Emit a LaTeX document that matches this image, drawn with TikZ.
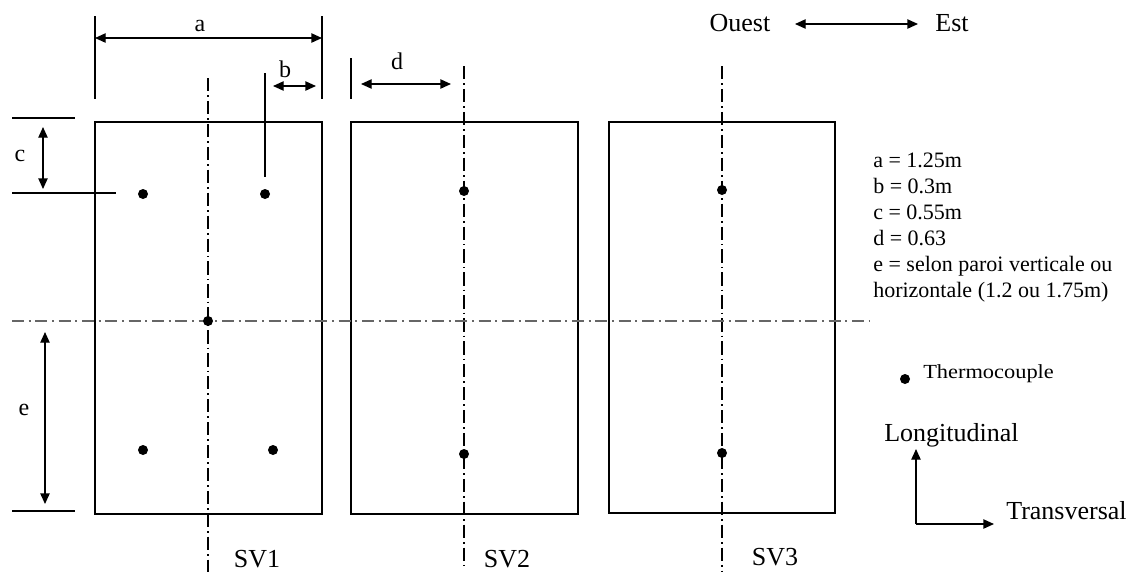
\documentclass[tikz,border=0pt]{standalone}
\usepackage{fontspec}
\setmainfont{Liberation Serif}
\usetikzlibrary{arrows.meta}
\begin{document}
\begin{tikzpicture}[x=0.75pt,y=-0.75pt,
  panel/.style={draw,line width=1.1pt,inner sep=0pt,outer sep=0pt,anchor=north west,minimum width=#1},
  dimline/.style={line width=1pt},
  dimarrow/.style={line width=1pt,{Triangle[length=8pt,width=7pt]}-{Triangle[length=8pt,width=7pt]}},
  axarrow/.style={line width=1pt,-{Triangle[length=8pt,width=7pt]}},
  vaxis/.style={line width=0.8pt,dash pattern=on 10pt off 3pt on 1.2pt off 3pt},
  haxis/.style={line width=1.3pt,black!60,dash pattern=on 9pt off 3.5pt on 1.5pt off 3.5pt},
  tc/.style={circle,fill,inner sep=0pt,minimum size=7.5pt},
  lbl/.style={font=\fontsize{18}{20}\selectfont,inner sep=0pt},
  big/.style={font=\fontsize{19.5}{22}\selectfont,inner sep=0pt},
  info/.style={font=\fontsize{16.5}{19.5}\selectfont,inner sep=0pt,align=left}
]
\useasboundingbox (0,0) rectangle (1128,572);
\fill[white] (0,0) rectangle (1128,572);

% panels
\node[panel=170.25pt,minimum height=294pt] (sv1box) at (95,122) {};
\node[panel=170.25pt,minimum height=294pt] (sv2box) at (351,122) {};
\node[panel=169.5pt,minimum height=293.25pt] (sv3box) at (609,122) {};

% centre lines
\coordinate (v1t) at (208,78);  \coordinate (v1b) at (208,572);
\coordinate (v2t) at (464,66);  \coordinate (v2b) at (464,565);
\coordinate (v3t) at (722,66);  \coordinate (v3b) at (722,572);
\coordinate (hl) at (12,321);   \coordinate (hr) at (870,321);
\draw[vaxis] (v1t) -- (v1b);
\draw[vaxis] (v2t) -- (v2b);
\draw[vaxis] (v3t) -- (v3b);
\draw[haxis] (hl) -- (hr);

% thermocouples
\node[tc] (t11) at (143,194) {};
\node[tc] (t12) at (265,194) {};
\node[tc] (t13) at (208,321) {};
\node[tc] (t14) at (143,450) {};
\node[tc] (t15) at (273,450) {};
\node[tc] (t21) at (464,191) {};
\node[tc] (t22) at (464,454) {};
\node[tc] (t31) at (722,190) {};
\node[tc] (t32) at (722,453) {};

% dimension a
\coordinate (a1t) at (95,16);  \coordinate (a1b) at (95,99);
\coordinate (a2t) at (322,16); \coordinate (a2b) at (322,99);
\coordinate (aL) at (95,38);   \coordinate (aR) at (322,38);
\draw[dimline] (a1t) -- (a1b);
\draw[dimline] (a2t) -- (a2b);
\draw[dimarrow] (aL) -- (aR);
\node[lbl] (la) at (200,26) {a};

% dimension b
\coordinate (bt) at (265,73); \coordinate (bb) at (265,177);
\coordinate (bL) at (273,86); \coordinate (bR) at (316,86);
\draw[dimline] (bt) -- (bb);
\draw[dimarrow] (bL) -- (bR);
\node[lbl] (lb) at (285,69) {b};

% dimension d
\coordinate (dt) at (351,58); \coordinate (db) at (351,99);
\coordinate (dL) at (361,84); \coordinate (dR) at (451,84);
\draw[dimline] (dt) -- (db);
\draw[dimarrow] (dL) -- (dR);
\node[lbl] (ld) at (397,61) {d};

% dimension c
\coordinate (c1l) at (12,118); \coordinate (c1r) at (75,118);
\coordinate (c2l) at (12,193); \coordinate (c2r) at (116,193);
\coordinate (cT) at (43,127);  \coordinate (cB) at (43,189);
\draw[dimline] (c1l) -- (c1r);
\draw[dimline] (c2l) -- (c2r);
\draw[dimarrow] (cT) -- (cB);
\node[lbl] (lc) at (20,156) {c};

% dimension e
\coordinate (eT) at (45,332); \coordinate (eB) at (45,504);
\coordinate (e2l) at (12,511); \coordinate (e2r) at (75,511);
\draw[dimline] (e2l) -- (e2r);
\draw[dimarrow] (eT) -- (eB);
\node[lbl] (le) at (24,410) {e};

% panel labels
\node[big] (n1) at (257,559) {SV1};
\node[big] (n2) at (507,559) {SV2};
\node[big] (n3) at (775,557) {SV3};

% orientation
\node[big] (ouest) at (740,23) {Ouest};
\node[big] (est) at (952,23) {Est};
\coordinate (oeL) at (795,24); \coordinate (oeR) at (918,24);
\draw[dimarrow] (oeL) -- (oeR);

% values
\node[info,anchor=north west] (vals) at (873,153) {a = 1.25m\\b = 0.3m\\c = 0.55m\\d = 0.63\\e = selon paroi verticale ou\\horizontale (1.2 ou 1.75m)};

% legend
\node[tc] (legdot) at (905,379) {};
\node[font=\fontsize{15}{17}\selectfont,inner sep=0pt,anchor=west] (legtxt) at (923,374) {\scalebox{1.12}[1]{Thermocouple}};

% axes
\coordinate (ax0) at (916,524);
\coordinate (axU) at (916,449);
\coordinate (axR) at (994,524);
\draw[axarrow] (ax0) -- (axU);
\draw[axarrow] (ax0) -- (axR);
\node[big,anchor=west] (long) at (884,435) {Longitudinal};
\node[big,anchor=west] (trans) at (1006,511) {Transversal};
\end{tikzpicture}
\end{document}
